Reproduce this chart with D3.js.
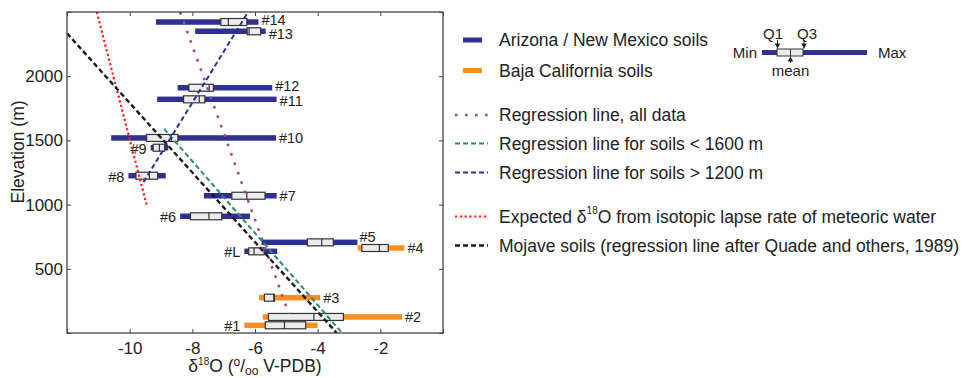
<!DOCTYPE html>
<html>
<head>
<meta charset="utf-8">
<script src="https://cdn.jsdelivr.net/npm/d3@7/dist/d3.min.js"></script>
<style>
  html, body { margin: 0; padding: 0; background: #fff; }
  svg { display: block; font-family: Arial, "Liberation Sans", sans-serif; }
</style>
</head>
<body>
<svg id="chart" width="968" height="378"></svg>
<script>
// ---------------- DATA ----------------
const sites     = ["#1", "#2", "#3", "#4", "#L", "#5", "#6", "#7", "#8", "#9", "#10", "#11", "#12", "#13", "#14"];
const regions   = ["Baja", "Baja", "Baja", "Baja", "AZNM", "AZNM", "AZNM", "AZNM", "AZNM", "AZNM", "AZNM", "AZNM", "AZNM", "AZNM", "AZNM"];
const elevation = [60, 125, 275, 662, 636, 706, 909, 1069, 1225, 1443, 1519, 1820, 1910, 2350, 2422];
const minVals   = [-6.34, -5.75, -5.87, -2.72, -6.34, -5.79, -8.39, -7.63, -10.04, -9.33, -10.59, -9.12, -8.47, -7.91, -9.16];
const q1Vals    = [-5.67, -5.57, -5.70, -2.59, -6.20, -4.33, -8.06, -6.74, -9.80, -9.25, -9.46, -8.28, -8.11, -6.25, -7.09];
const meanVals  = [-5.06, -4.12, -5.40, -2.03, -6.03, -3.87, -7.47, -6.26, -9.37, -9.05, -8.67, -7.78, -7.46, -6.19, -6.85];
const q3Vals    = [-4.38, -3.18, -5.38, -1.75, -5.71, -3.50, -7.06, -5.68, -9.11, -8.88, -8.46, -7.60, -7.33, -5.82, -6.26];
const maxVals   = [-4.00, -1.31, -3.92, -1.23, -5.29, -2.73, -6.16, -5.31, -8.85, -8.77, -5.33, -5.31, -5.45, -5.66, -5.89];

// regression / reference lines: [elevation (m), d18O]
const lineAllData   = [[2500, -8.39], [150, -4.92]];
const lineBelow1600 = [[1590, -8.90], [0, -3.22]];
const lineAbove1200 = [[1175, -9.56], [2500, -6.22]];
const lineLapseRate = [[2500, -11.05], [1000, -9.46]];
const lineMojave    = [[2334, -12.0], [0, -3.39]];

const xTicks = [-12, -10, -8, -6, -4, -2, 0];
const xTickLabels = ["", "-10", "-8", "-6", "-4", "-2", ""];
const yTicks = [0, 500, 1000, 1500, 2000, 2500];
const yTickLabels = ["", "500", "1000", "1500", "2000", ""];

const legendBars = ["Arizona / New Mexico soils", "Baja California soils"];
const legendLines = [
  "Regression line, all data",
  "Regression line for soils < 1600 m",
  "Regression line for soils > 1200 m",
  "Expected δ18O from isotopic lapse rate of meteoric water",
  "Mojave soils (regression line after Quade and others, 1989)"
];

// ---------------- STYLE ----------------
const colors = { AZNM: "#2e3192", Baja: "#f7901e" };
const lineStyles = [
  { color: "#a3449a", width: 2.6, dash: "2.6,7.4" },
  { color: "#2a8a72", width: 2, dash: "5,3" },
  { color: "#2e3192", width: 2, dash: "5,3" },
  { color: "#ff1a1a", width: 2.2, dash: "2.2,2.6" },
  { color: "#1a1a1a", width: 2.4, dash: "5,3" }
];
const labelSide = { "#1": "left", "#6": "left", "#8": "left", "#9": "left", "#L": "left", "#5": "above" };
const labelNudge = { "#14": -2.5, "#13": 2.5, "#12": -1.5, "#11": 1.5 };

const svg = d3.select("#chart");
const M = { left: 67, top: 12, right: 443, bottom: 333 };

const x = d3.scaleLinear().domain([-12, 0]).range([M.left, M.right]);
const y = d3.scaleLinear().domain([0, 2500]).range([M.bottom, M.top]);

svg.append("defs").append("clipPath").attr("id", "plotclip")
  .append("rect").attr("x", M.left).attr("y", M.top)
  .attr("width", M.right - M.left).attr("height", M.bottom - M.top);

// ---------------- BARS ----------------
const data = sites.map((s, i) => ({
  site: s, region: regions[i], elev: elevation[i],
  min: minVals[i], q1: q1Vals[i], mean: meanVals[i], q3: q3Vals[i], max: maxVals[i]
}));

const gBars = svg.append("g");
const barH = 5.5, boxH = 7;
data.forEach(d => {
  const cy = y(d.elev);
  gBars.append("rect")
    .attr("x", x(d.min)).attr("y", cy - barH / 2)
    .attr("width", x(d.max) - x(d.min)).attr("height", barH)
    .attr("fill", colors[d.region]);
  gBars.append("rect")
    .attr("x", x(d.q1)).attr("y", cy - boxH / 2)
    .attr("width", x(d.q3) - x(d.q1)).attr("height", boxH)
    .attr("fill", "#ececec").attr("stroke", "#333").attr("stroke-width", 1.2);
  gBars.append("line")
    .attr("x1", x(d.mean)).attr("x2", x(d.mean))
    .attr("y1", cy - boxH / 2).attr("y2", cy + boxH / 2)
    .attr("stroke", "#333").attr("stroke-width", 1.2);

  const side = labelSide[d.site] || "right";
  const nudge = labelNudge[d.site] || 0;
  const t = gBars.append("text").text(d.site)
    .attr("font-size", 14.5).attr("fill", "#222")
    .attr("dominant-baseline", "central");
  if (side === "right") {
    t.attr("x", x(d.max) + 3).attr("y", cy + nudge);
  } else if (side === "left") {
    t.attr("x", x(d.min) - 4).attr("y", cy + 1).attr("text-anchor", "end");
  } else {
    t.attr("x", x(d.max) + 2).attr("y", cy - 5);
  }
});

// ---------------- LINES ----------------
const lineGen = d3.line().x(p => x(p[1])).y(p => y(p[0]));
const gLines = svg.append("g").attr("clip-path", "url(#plotclip)");
[lineAllData, lineBelow1600, lineAbove1200, lineLapseRate, lineMojave].forEach((pts, i) => {
  const st = lineStyles[i];
  gLines.append("path").attr("d", lineGen(pts))
    .attr("fill", "none").attr("stroke", st.color)
    .attr("stroke-width", st.width).attr("stroke-dasharray", st.dash);
});

// ---------------- AXES ----------------
const tickLen = 4;
const axisColor = "#444";
svg.append("g").attr("transform", `translate(0,${M.bottom})`)
  .call(d3.axisBottom(x).tickValues(xTicks).tickSizeInner(-tickLen).tickSizeOuter(0)
    .tickFormat((d, i) => xTickLabels[i]))
  .call(g => g.select(".domain").remove())
  .call(g => g.selectAll("line").attr("stroke", axisColor))
  .call(g => g.selectAll("text").attr("font-size", 17).attr("fill", "#222").attr("dy", "1.05em").attr("y", 3));
svg.append("g").attr("transform", `translate(0,${M.top})`)
  .call(d3.axisTop(x).tickValues(xTicks).tickSizeInner(-tickLen).tickSizeOuter(0).tickFormat(""))
  .call(g => g.select(".domain").remove())
  .call(g => g.selectAll("line").attr("stroke", axisColor));
svg.append("g").attr("transform", `translate(${M.left},0)`)
  .call(d3.axisLeft(y).tickValues(yTicks).tickSizeInner(-tickLen).tickSizeOuter(0)
    .tickFormat((d, i) => yTickLabels[i]))
  .call(g => g.select(".domain").remove())
  .call(g => g.selectAll("line").attr("stroke", axisColor))
  .call(g => g.selectAll("text").attr("font-size", 17).attr("fill", "#222").attr("x", -4));
svg.append("g").attr("transform", `translate(${M.right},0)`)
  .call(d3.axisRight(y).tickValues(yTicks).tickSizeInner(-tickLen).tickSizeOuter(0).tickFormat(""))
  .call(g => g.select(".domain").remove())
  .call(g => g.selectAll("line").attr("stroke", axisColor));

svg.append("rect").attr("x", M.left).attr("y", M.top)
  .attr("width", M.right - M.left).attr("height", M.bottom - M.top)
  .attr("fill", "none").attr("stroke", axisColor).attr("stroke-width", 1.3);

// axis titles
const xt = svg.append("text").attr("x", 255).attr("y", 372)
  .attr("text-anchor", "middle").attr("font-size", 17.5).attr("fill", "#222");
xt.append("tspan").text("δ");
xt.append("tspan").text("18").attr("font-size", 10).attr("dy", -7);
xt.append("tspan").text("O (").attr("dy", 7);
xt.append("tspan").text("o").attr("font-size", 12).attr("dy", -6);
xt.append("tspan").text("/").attr("dy", 6);
xt.append("tspan").text("oo").attr("font-size", 12).attr("dy", 3);
xt.append("tspan").text(" V-PDB)").attr("dy", -3);

svg.append("text").attr("transform", "translate(24,152) rotate(-90)")
  .attr("text-anchor", "middle").attr("font-size", 17.5).attr("fill", "#222")
  .text("Elevation (m)");

// ---------------- LEGEND ----------------
const lg = svg.append("g");
const barLegendY = [40, 70.5];
legendBars.forEach((lbl, i) => {
  const c = i === 0 ? colors.AZNM : colors.Baja;
  lg.append("rect").attr("x", 463).attr("y", barLegendY[i] - 2.5).attr("width", 19).attr("height", 5).attr("fill", c);
  lg.append("text").attr("x", 499).attr("y", barLegendY[i]).attr("dominant-baseline", "central")
    .attr("font-size", 17.5).attr("fill", "#222").text(lbl);
});
const lineLegendY = [115, 143.5, 172.5, 216.5, 245.5];
legendLines.forEach((lbl, i) => {
  const st = lineStyles[i];
  const ly = lineLegendY[i];
  lg.append("line").attr("x1", 455).attr("x2", 488).attr("y1", ly).attr("y2", ly)
    .attr("stroke", st.color).attr("stroke-width", st.width).attr("stroke-dasharray", st.dash);
  const t = lg.append("text").attr("x", 499).attr("y", ly).attr("dominant-baseline", "central")
    .attr("font-size", 17.5).attr("fill", "#222");
  if (lbl.includes("δ18O")) {
    const parts = lbl.split("δ18O");
    t.append("tspan").text(parts[0] + "δ");
    t.append("tspan").text("18").attr("font-size", 10).attr("dy", -7);
    t.append("tspan").text("O" + parts[1]).attr("dy", 7);
  } else {
    t.text(lbl);
  }
});

// key diagram
const key = svg.append("g");
const ky = 52.5;
key.append("text").attr("x", 757).attr("y", ky).attr("text-anchor", "end").attr("dominant-baseline", "central")
  .attr("font-size", 15).attr("fill", "#222").text("Min");
key.append("text").attr("x", 878).attr("y", ky).attr("dominant-baseline", "central")
  .attr("font-size", 15).attr("fill", "#222").text("Max");
key.append("rect").attr("x", 762).attr("y", ky - 2.5).attr("width", 105).attr("height", 5).attr("fill", colors.AZNM);
key.append("rect").attr("x", 777).attr("y", ky - 3.5).attr("width", 26).attr("height", 7)
  .attr("fill", "#ececec").attr("stroke", "#333").attr("stroke-width", 1);
key.append("line").attr("x1", 790.5).attr("x2", 790.5).attr("y1", ky - 3.5).attr("y2", ky + 3.5)
  .attr("stroke", "#333").attr("stroke-width", 1);
key.append("text").attr("x", 773).attr("y", 33).attr("text-anchor", "middle").attr("dominant-baseline", "central")
  .attr("font-size", 15).attr("fill", "#222").text("Q1");
key.append("text").attr("x", 807).attr("y", 33).attr("text-anchor", "middle").attr("dominant-baseline", "central")
  .attr("font-size", 15).attr("fill", "#222").text("Q3");
key.append("text").attr("x", 790.5).attr("y", 70).attr("text-anchor", "middle").attr("dominant-baseline", "central")
  .attr("font-size", 15).attr("fill", "#222").text("mean");
function arrow(x0, y0, y1) {
  key.append("line").attr("x1", x0).attr("x2", x0).attr("y1", y0).attr("y2", y1)
    .attr("stroke", "#222").attr("stroke-width", 1);
  const dir = y1 > y0 ? 1 : -1;
  key.append("path")
    .attr("d", `M${x0 - 2.8},${y1 - dir * 5}L${x0 + 2.8},${y1 - dir * 5}L${x0},${y1}Z`)
    .attr("fill", "#222");
}
arrow(777.5, 40, 48.5);
arrow(804, 40, 48.5);
arrow(790.5, 63, 56.5);
</script>
</body>
</html>
